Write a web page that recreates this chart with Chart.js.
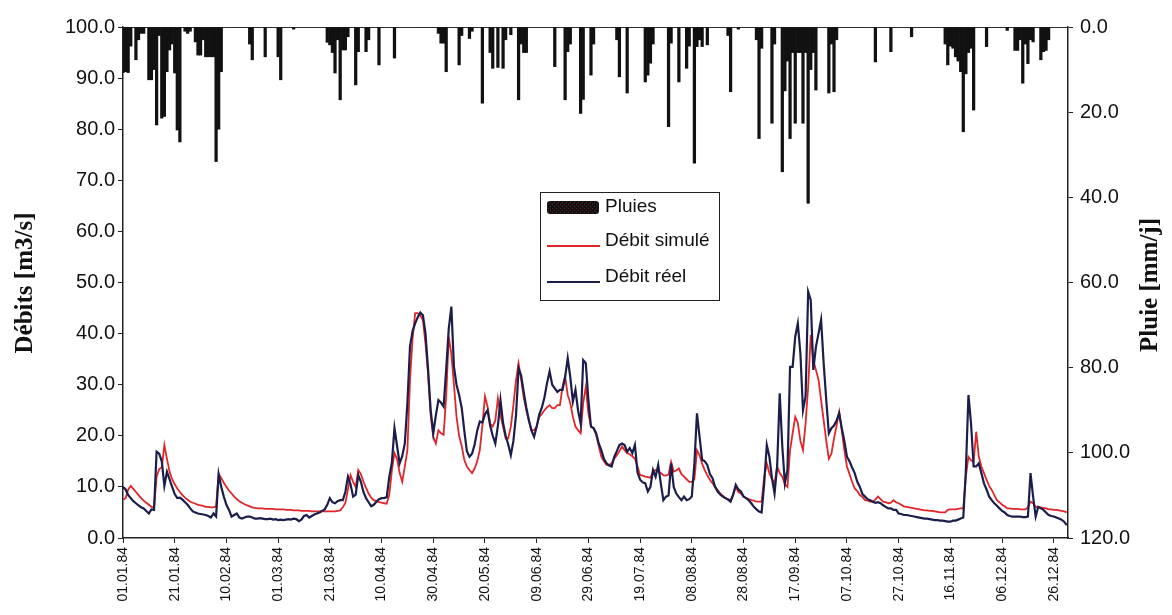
<!DOCTYPE html>
<html>
<head>
<meta charset="utf-8">
<script src="https://cdn.jsdelivr.net/npm/chart.js@4/dist/chart.umd.min.js"></script>
<style>
  body { margin: 0; background: #fff; }
  canvas { display: block; }
</style>
</head>
<body>
<canvas id="chart" width="1172" height="615"></canvas>
<script>
"use strict"

// series names (legend)
const seriesNames = ["Pluies", "Débit simulé", "Débit réel"];

// x ticks: day of year -> label
const tickDays = [0, 20, 40, 60, 80, 100, 120, 140, 160, 180, 200, 220, 240, 260, 280, 300, 320, 340, 360];
const tickLabels = ["01.01.84", "21.01.84", "10.02.84", "01.03.84", "21.03.84", "10.04.84", "30.04.84",
  "20.05.84", "09.06.84", "29.06.84", "19.07.84", "08.08.84", "28.08.84", "17.09.84", "07.10.84",
  "27.10.84", "16.11.84", "06.12.84", "26.12.84"];

// daily rain [mm/j], day 0 = 01.01.84
const pluies = [
  10.7, 10.5, 10.7, 4.5, 0, 7.7, 3.0, 1.5, 1.5, 0,
  12.4, 12.4, 10.0, 23.0, 2.0, 21.4, 21.0, 10.5, 5.4, 4.0,
  10.8, 24.2, 27.0, 0, 1.0, 1.5, 1.0, 0, 3.5, 6.6,
  6.6, 3.0, 7.0, 7.0, 7.0, 7.0, 31.6, 24.0, 10.5, 0,
  0, 0, 0, 0, 0, 0, 0, 0, 0, 4.0,
  7.7, 0, 0, 0, 0, 7.0, 0, 0, 0, 0,
  7.0, 12.4, 0, 0, 0, 0, 0.5, 0, 0, 0,
  0, 0, 0, 0, 0, 0, 0, 0, 0, 3.6,
  4.2, 6.0, 10.8, 3.0, 17.1, 5.4, 5.4, 2.3, 0, 0,
  13.6, 5.8, 0, 0, 5.8, 3.0, 0, 0, 0, 8.9,
  0, 0, 0, 0, 0, 7.3, 0, 0, 0, 0,
  0, 0, 0, 0, 0, 0, 0, 0, 0, 0,
  0, 0, 1.5, 3.8, 3.8, 10.5, 0, 0, 0, 0,
  8.9, 2.0, 0, 0, 2.7, 1.0, 0, 0, 0, 17.9,
  0, 0, 6.0, 9.7, 0, 9.5, 0, 9.7, 3.0, 0,
  1.8, 0, 0, 17.1, 4.0, 6.0, 6.0, 0, 0, 0,
  0, 0, 0, 0, 0, 0, 0, 9.3, 0, 0,
  0, 17.1, 5.8, 4.0, 0, 0, 0, 20.3, 17.0, 0,
  0, 11.3, 4.0, 0, 0, 0, 0, 0, 0, 0,
  0, 3.0, 11.7, 0, 0, 15.5, 0, 0, 0, 0,
  0, 0, 12.9, 11.3, 8.5, 4.0, 0, 0, 0, 0,
  0, 23.4, 3.8, 0, 0, 12.9, 0, 0, 9.7, 4.5,
  0, 32.0, 4.6, 3.0, 4.6, 0, 4.2, 0, 0, 0,
  0, 0, 0, 0, 2.0, 15.2, 0, 0, 0.5, 0,
  0, 0, 0, 0, 0, 3.0, 26.2, 5.0, 0, 0,
  0, 22.6, 4.0, 0, 0, 34.0, 15.0, 8.0, 26.2, 6.0,
  22.6, 6.0, 6.0, 22.6, 6.0, 41.4, 10.0, 6.0, 14.8, 0,
  0, 0, 0, 15.5, 4.0, 15.2, 3.0, 0, 0, 0,
  0, 0, 0, 0, 0, 0, 0, 0, 0, 0,
  0, 8.2, 0, 0, 0, 0, 0, 5.8, 0, 0,
  0, 0, 0, 0, 0, 2.3, 0, 0, 0, 0,
  0, 0, 0, 0, 0, 0, 0, 0, 4.0, 8.9,
  4.5, 5.0, 7.0, 8.0, 10.5, 24.6, 11.0, 6.0, 5.0, 19.5,
  0, 0, 0, 0, 4.6, 0, 0, 0, 0, 0,
  0, 0, 0.8, 0, 0, 5.5, 5.5, 3.0, 13.2, 4.0,
  8.6, 3.0, 3.5, 0, 0, 7.7, 5.8, 5.5, 3.0, 0,
  0, 0, 0, 0, 0, 0
];

// simulated discharge [m3/s]
const debitSimule = [
  7.5, 7.8, 9.5, 10.2, 9.6, 9.0, 8.4, 7.8, 7.3, 6.9,
  6.5, 6.1, 6.0, 12.0, 13.5, 13.8, 18.2, 15.5, 13.0, 11.5,
  10.5, 9.7, 9.0, 8.4, 7.9, 7.5, 7.1, 6.9, 6.7, 6.5,
  6.4, 6.3, 6.1, 6.1, 6.0, 6.0, 6.2, 12.5, 11.7, 10.8,
  10.0, 9.3, 8.7, 8.1, 7.6, 7.2, 6.9, 6.6, 6.4, 6.2,
  6.0, 5.9, 5.8, 5.8, 5.8, 5.7, 5.7, 5.7, 5.7, 5.6,
  5.6, 5.6, 5.6, 5.5, 5.5, 5.5, 5.4, 5.4, 5.4, 5.3,
  5.3, 5.3, 5.3, 5.2, 5.2, 5.2, 5.2, 5.2, 5.2, 5.2,
  5.2, 5.2, 5.2, 5.3, 5.4, 6.0, 6.8, 9.5, 12.3, 11.0,
  10.0, 13.3, 12.5, 11.0, 9.8, 8.7, 7.9, 7.4, 7.2, 7.0,
  6.9, 6.8, 6.7, 8.5, 13.3, 16.6, 15.5, 12.7, 11.0, 14.0,
  17.2, 30.9, 39.0, 44.0, 44.0, 43.5, 42.7, 38.0, 32.0, 24.0,
  19.8, 18.5, 21.1, 20.5, 20.2, 27.7, 39.4, 36.0, 30.0, 23.7,
  20.0, 18.0, 15.3, 14.0, 13.3, 12.7, 13.6, 15.0, 17.2, 22.0,
  27.7, 25.7, 22.4, 21.8, 23.0, 27.3, 24.0, 21.8, 19.5, 19.5,
  21.8, 26.0, 30.9, 34.2, 31.0, 27.5, 25.0, 23.0, 21.1, 21.1,
  21.8, 23.7, 24.3, 25.0, 25.6, 26.0, 25.4, 25.4, 26.0, 26.0,
  29.6, 31.6, 28.0, 26.4, 23.7, 21.8, 21.1, 20.5, 26.5, 29.6,
  24.4, 21.8, 21.5, 20.2, 18.0, 15.9, 15.0, 14.3, 14.3, 14.6,
  15.5, 16.2, 17.0, 17.9, 17.2, 16.6, 16.4, 16.0, 15.5, 14.0,
  12.3, 12.2, 12.0, 11.9, 11.8, 13.0, 13.3, 13.0, 12.7, 12.3,
  12.2, 12.4, 14.9, 13.0, 13.2, 13.6, 12.5, 12.0, 11.5, 11.0,
  11.0, 11.5, 17.2, 16.2, 14.5, 13.3, 12.3, 11.4, 10.7, 10.0,
  9.4, 8.7, 8.3, 7.8, 7.6, 7.4, 8.5, 10.0, 9.0, 8.7,
  8.2, 7.8, 7.6, 7.4, 7.3, 7.1, 7.1, 7.1, 12.0, 14.6,
  12.7, 11.5, 10.7, 14.0, 12.7, 12.0, 10.5, 10.0, 17.2, 20.5,
  23.7, 22.5, 19.0, 17.2, 22.4, 29.6, 39.7, 34.8, 32.9, 31.0,
  27.0, 23.0, 19.0, 15.5, 16.5, 19.5, 22.0, 24.7, 21.0, 17.2,
  14.0, 12.5, 11.0, 9.7, 9.2, 8.4, 8.0, 7.4, 7.3, 7.1,
  7.1, 7.5, 8.1, 7.6, 7.1, 7.0, 6.8, 6.9, 7.4, 7.0,
  6.8, 6.5, 6.2, 6.1, 6.0, 5.9, 5.8, 5.7, 5.6, 5.5,
  5.4, 5.4, 5.3, 5.3, 5.2, 5.1, 5.0, 5.0, 5.0, 5.5,
  5.6, 5.6, 5.6, 5.7, 5.8, 5.8, 12.0, 15.9, 15.2, 14.9,
  20.8, 15.9, 14.0, 12.7, 11.4, 10.2, 9.4, 8.4, 7.4, 7.0,
  6.5, 6.2, 5.8, 5.8, 5.7, 5.7, 5.7, 5.6, 5.6, 5.6,
  6.0, 7.1, 6.8, 6.1, 6.0, 6.0, 5.9, 5.8, 5.6, 5.6,
  5.5, 5.5, 5.4, 5.3, 5.2, 5.0
];

// observed discharge [m3/s]
const debitReel = [
  10.0, 9.5, 8.4, 7.8, 7.2, 6.8, 6.4, 6.0, 5.8, 5.3,
  4.8, 5.6, 5.5, 16.9, 16.5, 15.0, 10.2, 13.0, 11.5, 10.0,
  8.6, 7.8, 7.9, 7.5, 7.0, 6.5, 5.8, 5.2, 5.0, 4.8,
  4.7, 4.6, 4.5, 4.3, 4.0, 4.8, 4.2, 12.5, 10.0, 8.1,
  6.5, 5.5, 4.2, 4.5, 4.8, 4.0, 3.8, 4.0, 4.2, 4.2,
  4.0, 3.8, 3.8, 3.9, 3.8, 3.7, 3.7, 3.8, 3.6, 3.7,
  3.5, 3.6, 3.5, 3.6, 3.7, 3.6, 3.8, 3.7, 3.3, 3.6,
  4.3, 4.5, 4.0, 4.3, 4.6, 4.8, 5.0, 5.3, 5.6, 6.5,
  7.8, 7.0, 6.8, 7.2, 7.4, 7.4, 9.0, 12.0, 10.5, 8.1,
  8.5, 12.3, 11.0, 9.0, 7.8, 7.0, 6.2, 6.5, 7.1, 7.6,
  7.8, 7.8, 8.0, 12.0, 14.8, 21.5, 18.0, 14.6, 16.0, 18.5,
  26.4, 37.5, 40.5, 42.0, 43.2, 44.1, 43.6, 40.0, 33.0, 25.0,
  20.5, 24.0, 27.0, 26.5, 25.7, 33.0, 41.0, 45.3, 33.5, 30.0,
  28.0, 25.5, 21.0, 17.0, 15.9, 16.5, 18.3, 21.0, 22.8, 22.6,
  24.2, 25.0, 22.0, 20.0, 18.5, 22.0, 27.0, 22.5, 20.0, 18.3,
  16.2, 19.0, 24.0, 33.2, 31.8, 28.5, 25.5, 23.0, 21.0, 19.8,
  21.8, 24.2, 25.5, 27.5, 30.3, 32.6, 30.0, 29.3, 28.6, 29.0,
  29.0, 31.5, 35.2, 31.5, 26.7, 29.0, 25.0, 22.4, 34.8, 34.2,
  27.0, 21.8, 21.5, 20.5, 18.5, 17.2, 15.5, 14.6, 14.2, 14.0,
  15.9, 17.0, 18.2, 18.5, 18.2, 16.9, 17.6, 16.6, 18.2, 12.8,
  11.4, 10.9, 10.7, 9.1, 10.0, 13.3, 12.0, 14.3, 10.7, 7.4,
  8.1, 8.3, 14.6, 10.0, 8.7, 8.0, 7.4, 8.1, 7.4, 7.6,
  8.1, 14.6, 24.4, 19.8, 15.3, 15.0, 14.3, 12.5, 11.7, 10.0,
  9.1, 8.5, 8.1, 7.8, 7.5, 7.1, 8.5, 10.4, 9.5, 9.1,
  8.1, 7.8, 7.4, 6.8, 6.1, 5.6, 5.2, 5.0, 10.7, 18.2,
  15.9, 11.7, 8.7, 14.0, 28.3, 17.9, 10.7, 13.3, 33.5, 33.5,
  39.4, 42.0, 36.1, 25.0, 27.7, 48.2, 46.6, 32.9, 37.4, 40.0,
  42.7, 34.2, 27.0, 20.5, 21.5, 22.0, 23.0, 24.4, 21.5, 19.0,
  15.9, 15.0, 13.8, 12.7, 11.0, 10.0, 8.6, 8.1, 7.6, 7.4,
  7.1, 6.9, 7.0, 6.8, 6.4, 6.1, 5.8, 5.8, 5.5, 5.5,
  4.8, 4.7, 4.5, 4.5, 4.4, 4.3, 4.2, 4.1, 4.0, 3.9,
  3.8, 3.8, 3.7, 3.6, 3.5, 3.5, 3.4, 3.4, 3.3, 3.2,
  3.2, 3.4, 3.4, 3.6, 3.8, 4.0, 13.3, 28.0, 22.4, 14.0,
  14.0, 14.6, 12.7, 10.7, 9.5, 8.1, 7.4, 6.8, 6.3, 5.8,
  5.3, 5.0, 4.5, 4.3, 4.2, 4.2, 4.2, 4.2, 4.1, 4.1,
  4.2, 12.7, 8.1, 4.2, 6.1, 5.8, 5.5, 5.0, 4.5, 4.3,
  4.2, 4.0, 3.8, 3.6, 3.2, 2.5
];

const RED = "#e0262a";
const NAVY = "#1b1e4b";

function toPoints(values){
    return values.map((v, i) => ({ x: i, y: v }));
}

// little dotted fill like the scanned legend swatch
function rainPattern(ctx){
    const c = document.createElement("canvas");
    c.width = 4; c.height = 4;
    const p = c.getContext("2d");
    p.fillStyle = "#111";
    p.fillRect(0, 0, 4, 4);
    p.fillStyle = "#6a1a22";
    p.fillRect(0, 0, 1, 1);
    p.fillRect(2, 2, 1, 1);
    return ctx.createPattern(c, "repeat");
}

const extras = {
    id: "extras",
    beforeDatasetsDraw(chart){
        const ctx = chart.ctx;
        const a = chart.chartArea;
        ctx.save();
        ctx.strokeStyle = "#444";
        ctx.lineWidth = 1;
        ctx.beginPath();
        ctx.moveTo(a.left, a.top + 0.5);
        ctx.lineTo(a.right, a.top + 0.5);
        ctx.stroke();
        ctx.restore();
    },
    afterDraw(chart){
        const ctx = chart.ctx;
        ctx.save();

        // axis titles, both read bottom to top
        ctx.fillStyle = "#111";
        ctx.font = "bold 25px 'Liberation Serif', 'Times New Roman', serif";
        ctx.textAlign = "center";
        ctx.textBaseline = "middle";
        ctx.save();
        ctx.translate(26, 283);
        ctx.rotate(-Math.PI / 2);
        ctx.fillText("Débits [m3/s]", 0, 0);
        ctx.restore();
        ctx.save();
        ctx.translate(1151, 285);
        ctx.rotate(-Math.PI / 2);
        ctx.fillText("Pluie [mm/j]", 0, 0);
        ctx.restore();

        // legend box
        const bx = 540, by = 192, bw = 179, bh = 108;
        ctx.fillStyle = "#fff";
        ctx.fillRect(bx, by, bw, bh);
        ctx.strokeStyle = "#222";
        ctx.lineWidth = 1;
        ctx.strokeRect(bx + 0.5, by + 0.5, bw, bh);

        ctx.fillStyle = rainPattern(ctx);
        ctx.beginPath();
        ctx.roundRect(547, 201, 52, 13, 3);
        ctx.fill();

        ctx.lineWidth = 2;
        ctx.strokeStyle = RED;
        ctx.beginPath();
        ctx.moveTo(547, 246);
        ctx.lineTo(600, 246);
        ctx.stroke();
        ctx.strokeStyle = NAVY;
        ctx.beginPath();
        ctx.moveTo(547, 282);
        ctx.lineTo(600, 282);
        ctx.stroke();

        ctx.fillStyle = "#111";
        ctx.font = "19px 'Liberation Sans', Arial, sans-serif";
        ctx.textAlign = "left";
        ctx.textBaseline = "middle";
        ctx.fillText(seriesNames[0], 605, 207);
        ctx.fillText(seriesNames[1], 605, 241);
        ctx.fillText(seriesNames[2], 605, 277);

        ctx.restore();
    }
};

Chart.defaults.font.family = "'Liberation Sans', Arial, sans-serif";
Chart.defaults.color = "#111";

const axisGrid = {
    display: true,
    drawOnChartArea: false,
    drawTicks: true,
    tickLength: 5,
    offset: false,
    color: "#222"
};

const config = {
    data: {
        datasets: [
            {
                type: "line",
                label: seriesNames[2],
                data: toPoints(debitReel),
                borderColor: NAVY,
                borderWidth: 2.2,
                pointRadius: 0,
                tension: 0,
                yAxisID: "y",
                order: 0
            },
            {
                type: "line",
                label: seriesNames[1],
                data: toPoints(debitSimule),
                borderColor: RED,
                borderWidth: 1.8,
                pointRadius: 0,
                tension: 0,
                yAxisID: "y",
                order: 1
            },
            {
                type: "bar",
                label: seriesNames[0],
                data: toPoints(pluies),
                backgroundColor: "#111",
                borderWidth: 0,
                barPercentage: 1,
                categoryPercentage: 1,
                yAxisID: "y2",
                order: 2
            }
        ]
    },
    options: {
        responsive: false,
        animation: false,
        devicePixelRatio: 1,
        layout: { padding: { top: 27, left: 0, right: 0, bottom: 0 } },
        plugins: {
            legend: { display: false },
            tooltip: { enabled: false }
        },
        scales: {
            x: {
                type: "linear",
                offset: false,
                min: 0,
                max: 365.5,
                afterBuildTicks: (scale) => {
                    scale.ticks = tickDays.map(d => ({ value: d }));
                },
                afterFit: (scale) => { scale.height = 77; },
                ticks: {
                    autoSkip: false,
                    minRotation: 90,
                    maxRotation: 90,
                    padding: 4,
                    font: { size: 14 },
                    callback: (v) => tickLabels[tickDays.indexOf(v)]
                },
                grid: axisGrid,
                border: { display: true, color: "#222", width: 1.5 }
            },
            y: {
                position: "left",
                min: 0,
                max: 100,
                afterFit: (scale) => { scale.width = 123; },
                ticks: {
                    stepSize: 10,
                    padding: 3,
                    font: { size: 20 },
                    callback: (v) => v.toFixed(1)
                },
                grid: axisGrid,
                border: { display: true, color: "#222", width: 1.5 }
            },
            y2: {
                position: "right",
                reverse: true,
                min: 0,
                max: 120,
                afterFit: (scale) => { scale.width = 104; },
                ticks: {
                    stepSize: 20,
                    padding: 7,
                    font: { size: 20 },
                    callback: (v) => v.toFixed(1)
                },
                grid: axisGrid,
                border: { display: true, color: "#222", width: 1.5 }
            }
        }
    },
    plugins: [extras]
};

const myChart = new Chart(document.getElementById("chart"), config);
</script>
</body>
</html>
